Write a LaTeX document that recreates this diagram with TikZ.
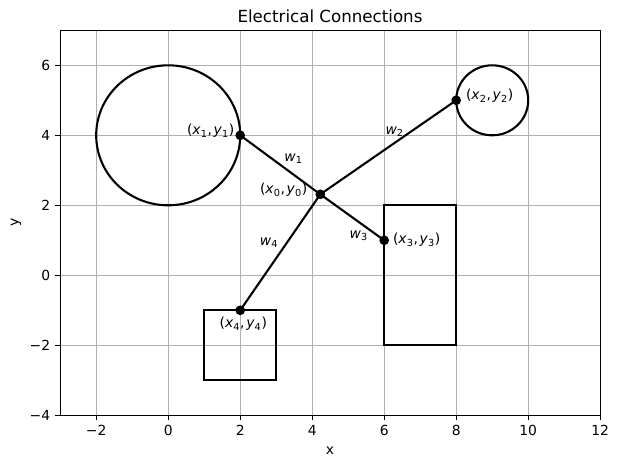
\documentclass[tikz,border=0pt]{standalone}
\usepackage{fontspec}
\setmainfont{DejaVu Sans}
\newcommand\mxy[1]{(\textit{x}\textsubscript{#1},\kern1.2pt\textit{y}\textsubscript{#1})}
\newcommand\mw[1]{\textit{w}\textsubscript{#1}}
\definecolor{gridgray}{HTML}{B0B0B0}
\tikzset{
  gridline/.style={draw=gridgray, line width=0.8pt},
  spine/.style={draw=black, line width=0.8pt, line cap=rect},
  tickmark/.style={draw=black, line width=0.8pt},
  ticklab/.style={font=\fontsize{10}{12}\selectfont, inner sep=0pt},
  lab/.style={font=\fontsize{10}{12}\selectfont, inner sep=0pt},
  outline/.style={draw=black, line width=1.5pt},
  wire/.style={draw=black, line width=1.5pt},
  dot/.style={circle, fill=black, inner sep=0pt, minimum size=7pt},
}
\begin{document}
\begin{tikzpicture}[x=0.72pt, y=-0.72pt]
\useasboundingbox (0,0) rectangle (620,468);
\begin{scope}[shift={(168.2,275.3)}, x=25.92pt, y=25.2pt]
  % grid
  \foreach \gx in {-2,0,...,12} \draw[gridline] (\gx,-4) -- (\gx,7);
  \foreach \gy in {-4,-2,...,6} \draw[gridline] (-3,\gy) -- (12,\gy);
  % shapes
  \draw[outline] (0,4) ellipse [x radius=2, y radius=2];
  \draw[outline] (9,5) ellipse [x radius=1, y radius=1];
  \draw[outline] (1,-3) rectangle (3,-1);
  \draw[outline] (6,-2) rectangle (8,2);
  % points
  \node[dot] (p0) at (4.225,2.314) {};
  \node[dot] (p1) at (2,4) {};
  \node[dot] (p2) at (8,5) {};
  \node[dot] (p3) at (6,1) {};
  \node[dot] (p4) at (2,-1) {};
  \draw[wire] (p1.center) -- (p0.center);
  \draw[wire] (p2.center) -- (p0.center);
  \draw[wire] (p3.center) -- (p0.center);
  \draw[wire] (p4.center) -- (p0.center);
  % spines
  \draw[spine] (-3,-4) rectangle (12,7);
  % ticks
  \foreach \gx/\t in {-2/−2,0/0,2/2,4/4,6/6,8/8,10/10,12/12} {
    \draw[tickmark] (\gx,-4) -- ++(0,-3.5pt);
    \node[ticklab, anchor=north] (xt\gx) at ([yshift=-7pt]\gx,-4) {\t};
  }
  \foreach \gy/\t in {-4/−4,-2/−2,0/0,2/2,4/4,6/6} {
    \draw[tickmark] (-3,\gy) -- ++(-3.5pt,0);
    \node[ticklab, anchor=east] (yt\gy) at ([xshift=-7pt]-3,\gy) {\t};
  }
\end{scope}
% point and wire labels (pixel positions)
\node[lab] (l1) at (210.7,131) {\mxy{1}};
\node[lab] (l0) at (283.7,190) {\mxy{0}};
\node[lab] (l2) at (489.7,96) {\mxy{2}};
\node[lab] (l3) at (416.7,240) {\mxy{3}};
\node[lab] (l4) at (243.3,324) {\mxy{4}};
\node[lab] (w1) at (293.5,159) {\mw{1}};
\node[lab] (w2) at (394.7,131.5) {\mw{2}};
\node[lab] (w3) at (358.8,236) {\mw{3}};
\node[lab] (w4) at (269,243) {\mw{4}};
% titles
\node[font=\fontsize{12}{14}\selectfont, inner sep=0pt] (title) at (330,16) {Electrical Connections};
\node[lab] (xlab) at (330,451) {x};
\node[lab, rotate=90] (ylab) at (16,222) {y};
\end{tikzpicture}
\end{document}
